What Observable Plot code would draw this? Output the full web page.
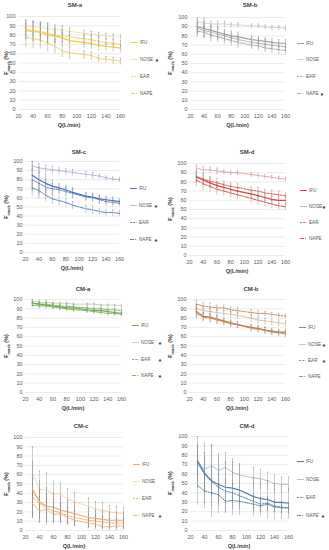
<!DOCTYPE html>
<html><head><meta charset="utf-8">
<script src="https://cdn.jsdelivr.net/npm/d3@7"></script>
<script src="https://cdn.jsdelivr.net/npm/@observablehq/plot@0.6"></script>
<style>
body{margin:0;background:#fff;}
#root{position:relative;width:329px;height:550px;overflow:hidden;font-family:"Liberation Sans",Arial,sans-serif;background:#fff;}
.ttl{position:absolute;font-size:6px;font-weight:bold;color:#404040;transform:translate(-50%,-50%);white-space:nowrap;}
.xt{position:absolute;font-size:5.5px;font-weight:bold;color:#404040;transform:translate(-50%,-50%);white-space:nowrap;}
.yt{position:absolute;font-size:5.5px;font-weight:bold;color:#404040;transform:translate(-50%,-50%) rotate(-90deg);white-space:nowrap;}
.yt sub{font-size:4px;}
.lg{position:absolute;font-size:4.6px;color:#595959;white-space:nowrap;transform:translateY(-50%);display:flex;align-items:center;}
.ast{position:absolute;font-size:7.5px;font-weight:bold;color:#303030;transform:translate(-50%,-50%);}
</style>
</head><body>
<div id="root"></div>
<script>
// ---------- shared data ----------
const Q = [30, 40, 50, 60, 70, 80, 90, 110, 120, 130, 140, 150, 160];
const seriesNames = ["IFU", "NOSE", "EAR", "NAPE"];
const xTicks = [20, 40, 60, 80, 100, 120, 140, 160];
const yTicks = [0, 10, 20, 30, 40, 50, 60, 70, 80, 90, 100];
const panelTitles = ["SM-a", "SM-b", "SM-c", "SM-d", "CM-a", "CM-b", "CM-c", "CM-d"];

// ---------- SM-a ----------
const smA_ifu  = [85, 84, 83, 80, 79, 77, 74, 72, 71, 69, 68, 67, 66];
const smA_nose = [90, 89, 88, 87, 86, 85, 84, 82, 81, 80, 79, 78, 78];
const smA_ear  = [86, 85, 84, 82, 80, 79, 78, 76, 75, 73, 72, 71, 70];
const smA_nape = [78, 76, 75, 71, 68, 63, 61, 59, 58, 55, 54, 53, 52];
const smA_ifu_sd  = [8, 10, 9, 8, 7, 6, 6, 5, 5, 5, 4, 4, 4];
const smA_nose_sd = [6, 6, 6, 6, 5, 5, 4, 3, 3, 3, 3, 3, 2];
const smA_ear_sd  = [10, 10, 10, 10, 8, 7, 6, 5, 5, 5, 4, 4, 4];
const smA_nape_sd = [10, 9, 9, 8, 7, 6, 6, 4, 4, 3, 3, 3, 3];
// ---------- SM-b ----------
const smB_ifu  = [90, 88, 86, 84, 82, 80, 79, 76, 75, 74, 73, 72, 72];
const smB_nose = [95, 94, 93, 93, 93, 92, 92, 91, 91, 90, 89, 89, 88];
const smB_ear  = [88, 86, 84, 82, 80, 78, 76, 73, 72, 71, 70, 69, 68];
const smB_nape = [85, 84, 81, 79, 77, 75, 73, 70, 69, 67, 66, 65, 64];
const smB_ifu_sd  = [7, 8, 6, 6, 5, 5, 5, 4, 4, 4, 4, 4, 4];
const smB_nose_sd = [4, 5, 3, 3, 3, 2, 2, 2, 2, 2, 2, 2, 2];
const smB_ear_sd  = [6, 7, 6, 6, 5, 5, 5, 5, 5, 5, 4, 4, 4];
const smB_nape_sd = [5, 6, 6, 5, 5, 5, 5, 4, 4, 4, 4, 4, 4];
// ---------- SM-c ----------
const smC_ifu  = [85, 80, 76, 73, 71, 69, 66, 62, 61, 59, 58, 57, 56];
const smC_nose = [95, 93, 92, 91, 90, 89, 88, 86, 85, 84, 82, 81, 80];
const smC_ear  = [80, 76, 72, 70, 69, 67, 65, 61, 60, 58, 56, 55, 54];
const smC_nape = [71, 68, 63, 59, 57, 55, 52, 48, 47, 45, 44, 44, 43];
const smC_ifu_sd  = [15, 14, 10, 7, 5, 5, 5, 4, 4, 4, 4, 4, 3];
const smC_nose_sd = [5, 5, 4, 4, 3, 3, 3, 3, 3, 2, 2, 2, 2];
const smC_ear_sd  = [12, 12, 8, 6, 5, 5, 5, 4, 4, 4, 4, 4, 3];
const smC_nape_sd = [8, 8, 6, 5, 4, 4, 4, 4, 4, 3, 3, 3, 3];
// ---------- SM-d ----------
const smD_ifu  = [85, 82, 79, 76, 74, 72, 70, 67, 65, 63, 61, 60, 60];
const smD_nose = [95, 93, 93, 92, 91, 90, 90, 88, 87, 86, 85, 84, 83];
const smD_ear  = [86, 83, 81, 79, 77, 75, 74, 71, 70, 68, 67, 66, 65];
const smD_nape = [82, 78, 75, 72, 70, 68, 66, 62, 60, 58, 56, 54, 53];
const smD_ifu_sd  = [5, 5, 5, 4, 4, 4, 4, 4, 4, 4, 4, 4, 4];
const smD_nose_sd = [3, 4, 3, 3, 2, 2, 2, 2, 2, 2, 2, 2, 2];
const smD_ear_sd  = [6, 6, 5, 5, 4, 4, 4, 4, 4, 4, 4, 4, 3];
const smD_nape_sd = [6, 6, 5, 5, 4, 4, 4, 4, 4, 4, 4, 3, 3];
// ---------- CM-a ----------
const cmA_ifu  = [96, 95, 94, 93, 92, 91, 91, 89, 88, 88, 87, 86, 85];
const cmA_nose = [98, 97, 97, 96, 96, 96, 95, 95, 95, 94, 94, 94, 93];
const cmA_ear  = [96, 95, 95, 94, 93, 93, 92, 91, 90, 90, 89, 89, 88];
const cmA_nape = [94, 93, 93, 92, 91, 90, 89, 88, 87, 86, 85, 85, 84];
const cmA_ifu_sd  = [2, 2, 2, 2, 2, 2, 2, 2, 2, 2, 2, 2, 2];
const cmA_nose_sd = [2, 2, 2, 1, 1, 1, 1, 1, 1, 1, 1, 1, 1];
const cmA_ear_sd  = [2, 2, 2, 2, 2, 2, 2, 2, 2, 2, 2, 2, 2];
const cmA_nape_sd = [2, 2, 2, 2, 2, 2, 2, 2, 2, 2, 2, 2, 2];
// ---------- CM-b ----------
const cmB_ifu  = [87, 82, 81, 79, 77, 75, 73, 70, 69, 67, 66, 65, 65];
const cmB_nose = [90, 88, 87, 86, 85, 84, 83, 80, 78, 77, 76, 75, 74];
const cmB_ear  = [95, 93, 92, 91, 91, 89, 88, 86, 85, 85, 84, 83, 82];
const cmB_nape = [85, 81, 80, 78, 76, 74, 73, 69, 68, 67, 65, 64, 63];
const cmB_ifu_sd  = [5, 4, 4, 4, 3, 3, 3, 3, 3, 3, 3, 3, 3];
const cmB_nose_sd = [4, 4, 4, 3, 3, 3, 3, 3, 3, 3, 3, 3, 3];
const cmB_ear_sd  = [4, 4, 4, 3, 3, 3, 3, 3, 3, 2, 2, 2, 2];
const cmB_nape_sd = [5, 4, 4, 4, 3, 3, 3, 3, 3, 3, 3, 3, 3];
// ---------- CM-c ----------
const cmC_ifu  = [44, 31, 26, 25, 22, 20, 18, 14, 13, 12, 11, 11, 11];
const cmC_nose = [62, 44, 44, 39, 39, 34, 31, 26, 23, 22, 20, 19, 18];
const cmC_ear  = [36, 29, 24, 21, 19, 16, 14, 11, 10, 9, 8, 8, 8];
const cmC_nape = [29, 21, 23, 17, 18, 14, 11, 8, 7, 4, 4, 5, 5];
const cmC_ifu_sd  = [30, 22, 20, 15, 14, 12, 12, 10, 9, 9, 8, 8, 8];
const cmC_nose_sd = [28, 20, 18, 14, 12, 11, 10, 9, 8, 8, 7, 7, 7];
const cmC_ear_sd  = [20, 16, 15, 12, 10, 9, 8, 7, 6, 6, 5, 5, 5];
const cmC_nape_sd = [15, 12, 12, 9, 8, 7, 6, 5, 5, 4, 4, 4, 4];
// ---------- CM-d ----------
const cmD_ifu  = [74, 61, 53, 49, 46, 45, 43, 36, 34, 33, 30, 30, 29];
const cmD_nose = [74, 65, 69, 64, 67, 62, 59, 56, 55, 53, 50, 49, 49];
const cmD_ear  = [72, 60, 52, 46, 42, 40, 37, 31, 28, 29, 26, 25, 24];
const cmD_nape = [48, 42, 40, 38, 31, 32, 31, 28, 26, 28, 25, 24, 24];
const cmD_ifu_sd  = [28, 32, 38, 30, 27, 28, 26, 20, 18, 20, 18, 17, 16];
const cmD_nose_sd = [15, 18, 22, 18, 16, 14, 12, 11, 10, 9, 9, 8, 8];
const cmD_ear_sd  = [20, 18, 15, 14, 12, 10, 9, 8, 7, 7, 6, 6, 6];
const cmD_nape_sd = [20, 18, 14, 12, 10, 9, 8, 7, 6, 6, 5, 5, 5];

// significance markers (series with *)
const starred = [["NOSE"], ["NAPE"], ["NOSE", "NAPE"], ["NOSE"], ["NOSE", "EAR", "NAPE"], ["NOSE", "EAR"], ["NAPE"], ["NAPE"]];

const panelValues = [
  [smA_ifu, smA_nose, smA_ear, smA_nape], [smB_ifu, smB_nose, smB_ear, smB_nape],
  [smC_ifu, smC_nose, smC_ear, smC_nape], [smD_ifu, smD_nose, smD_ear, smD_nape],
  [cmA_ifu, cmA_nose, cmA_ear, cmA_nape], [cmB_ifu, cmB_nose, cmB_ear, cmB_nape],
  [cmC_ifu, cmC_nose, cmC_ear, cmC_nape], [cmD_ifu, cmD_nose, cmD_ear, cmD_nape]
];
const panelSDs = [
  [smA_ifu_sd, smA_nose_sd, smA_ear_sd, smA_nape_sd], [smB_ifu_sd, smB_nose_sd, smB_ear_sd, smB_nape_sd],
  [smC_ifu_sd, smC_nose_sd, smC_ear_sd, smC_nape_sd], [smD_ifu_sd, smD_nose_sd, smD_ear_sd, smD_nape_sd],
  [cmA_ifu_sd, cmA_nose_sd, cmA_ear_sd, cmA_nape_sd], [cmB_ifu_sd, cmB_nose_sd, cmB_ear_sd, cmB_nape_sd],
  [cmC_ifu_sd, cmC_nose_sd, cmC_ear_sd, cmC_nape_sd], [cmD_ifu_sd, cmD_nose_sd, cmD_ear_sd, cmD_nape_sd]
];

// ---------- layout & style (not data) ----------
const colors = ["#F4C842", "#A0A0A0", "#4A72BE", "#E0403A", "#6AAE45", "#C27A3A", "#F0A868", "#4D7FA8"];
// plot rect: [left x (20), right x (160), top y (100), bottom y (0)]
const rects = [
  [18, 120, 16, 109], [190, 285, 17, 109],
  [25, 119, 161, 252], [189, 285, 163, 255],
  [25, 121, 299, 392], [189, 285, 299, 392],
  [25, 123, 437, 530], [190, 288, 436, 530]
];
const titlePos = [[75, 5], [250, 5], [79, 152], [247, 152], [83, 289], [251, 289], [81, 426], [247, 426]];
const legendRows = [
  [42, 59, 76, 93], [43, 59, 76, 93], [188, 205, 222, 239], [190, 206, 222, 238],
  [325, 342, 359, 375], [327, 344, 360, 376], [464, 481, 498, 515], [461, 479, 497, 515]
];
const legendX = [131, 297, 130, 300, 132, 299, 133, 297];
const astX = [157, 322, 156, 324, 160, 324, 160, 323];
const lineStyle = {
  IFU:  {w: 1.2, dash: null, op: 1},
  NOSE: {w: 0.6, dash: null, op: 0.75},
  EAR:  {w: 0.9, dash: "2,1.3", op: 1},
  NAPE: {w: 0.9, dash: "4,1.2,1,1.2", op: 1}
};

const root = document.getElementById("root");
function addDiv(cls, x, y, html) {
  const d = document.createElement("div");
  d.className = cls;
  d.style.left = x + "px";
  d.style.top = y + "px";
  d.innerHTML = html;
  root.appendChild(d);
  return d;
}

panelTitles.forEach((title, p) => {
  const [x0, x1, y0, y1] = rects[p];
  const ml = 16, mr = 3, mt = 3, mb = 12;
  const W = x1 - x0 + ml + mr, H = y1 - y0 + mt + mb;
  const color = colors[p];
  const data = [];
  seriesNames.forEach((s, i) => Q.forEach((q, j) => data.push({s, q, v: panelValues[p][i][j], e: panelSDs[p][i][j]})));
  const lo = d => Math.max(0, d.v - d.e), hi = d => Math.min(100, d.v + d.e);
  const marks = [
    Plot.gridY(yTicks, {stroke: "#d9d9d9", strokeOpacity: 1, strokeWidth: 0.5}),
    Plot.ruleX(data, {x: "q", y1: lo, y2: hi, stroke: "#7a7a7a", strokeWidth: 0.45, strokeOpacity: 0.85}),
    Plot.link(data, {x1: d => d.q - 1, x2: d => d.q + 1, y1: hi, y2: hi, stroke: "#7a7a7a", strokeWidth: 0.45, strokeOpacity: 0.85}),
    Plot.link(data.filter(d => d.v - d.e > 0), {x1: d => d.q - 1, x2: d => d.q + 1, y1: lo, y2: lo, stroke: "#7a7a7a", strokeWidth: 0.45, strokeOpacity: 0.85}),
    ...seriesNames.map(s => Plot.line(data.filter(d => d.s === s), {
      x: "q", y: "v", stroke: color, strokeWidth: lineStyle[s].w,
      strokeDasharray: lineStyle[s].dash, strokeOpacity: lineStyle[s].op
    }))
  ];
  const svg = Plot.plot({
    width: W, height: H, marginLeft: ml, marginRight: mr, marginTop: mt, marginBottom: mb,
    style: {fontSize: "5.5px", fontFamily: "Liberation Sans, Arial, sans-serif", color: "#595959", background: "transparent", overflow: "visible"},
    x: {domain: [20, 160], ticks: xTicks, tickSize: 0, tickPadding: 5, label: null},
    y: {domain: [0, 100], ticks: yTicks, tickSize: 0, tickPadding: 3, label: null},
    marks
  });
  svg.style.position = "absolute";
  svg.style.left = (x0 - ml) + "px";
  svg.style.top = (y0 - mt) + "px";
  root.appendChild(svg);

  addDiv("ttl", titlePos[p][0], titlePos[p][1], title);
  addDiv("xt", (x0 + x1) / 2, y1 + 16, "Q(L/min)");
  const colLeft = p % 2 === 0 ? 0 : 164;
  addDiv("yt", colLeft + 7, (y0 + y1) / 2, "F<sub>mask</sub> (%)");

  seriesNames.forEach((s, i) => {
    const st = lineStyle[s];
    const sw = `<svg width="7" height="4" style="margin-right:2px"><line x1="0" x2="7" y1="2" y2="2" stroke="${color}" stroke-width="${st.w}" ${st.dash ? `stroke-dasharray="${st.dash}"` : ""} stroke-opacity="${st.op}"/></svg>`;
    addDiv("lg", legendX[p], legendRows[p][i], sw + s);
    if (starred[p].includes(s)) addDiv("ast", astX[p], legendRows[p][i] + 1.5, "*");
  });
});
</script>
</body></html>
